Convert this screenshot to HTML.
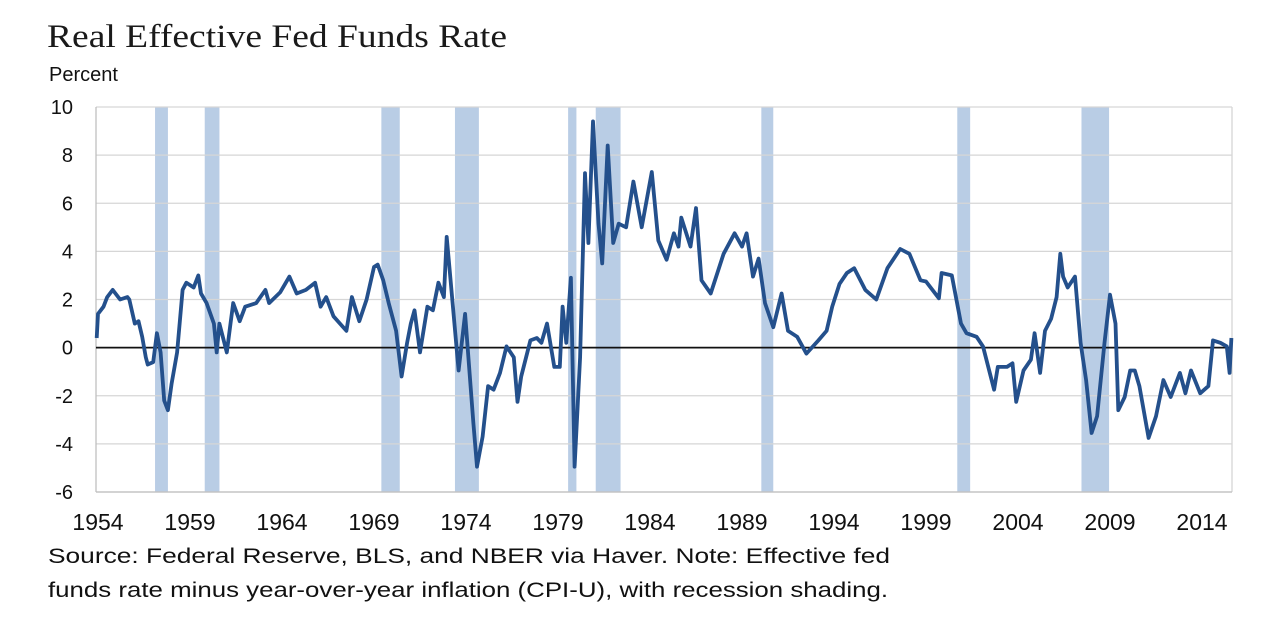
<!DOCTYPE html>
<html><head><meta charset="utf-8"><style>
html,body{margin:0;padding:0;background:#fff;}
svg{display:block;font-family:"Liberation Sans",Arial,sans-serif;}
</style></head><body>
<svg id="chart" width="1284" height="631" viewBox="0 0 1284 631">
<text x="47" y="47" font-family="Liberation Serif, serif" font-size="33" fill="#1a1a1a" textLength="460" lengthAdjust="spacingAndGlyphs">Real Effective Fed Funds Rate</text>
<text x="49" y="81" font-size="20" fill="#111">Percent</text>
<g id="rec"></g><g id="grid"></g><g id="axes"></g>
<path id="line" fill="none" stroke="#24508c" stroke-width="3.8" stroke-linejoin="round"/>
<g id="labels"></g>
<text x="48" y="563" font-size="21" fill="#111" textLength="842" lengthAdjust="spacingAndGlyphs">Source: Federal Reserve, BLS, and NBER via Haver.  Note: Effective fed</text>
<text x="48" y="597" font-size="21" fill="#111" textLength="840" lengthAdjust="spacingAndGlyphs">funds rate minus year-over-year inflation (CPI-U), with recession shading.</text>
</svg>
<script>
const yTicks=[10,8,6,4,2,0,-2,-4,-6];
const xTickYears=[1954,1959,1964,1969,1974,1979,1984,1989,1994,1999,2004,2009,2014];
const recessions=[[1957.6,1958.3],[1960.3,1961.1],[1969.9,1970.9],[1973.9,1975.2],[1980.05,1980.5],[1981.55,1982.9],[1990.55,1991.2],[2001.2,2001.9],[2007.95,2009.45]];
const years=[1954.43,1954.5,1954.8,1955.0,1955.3,1955.7,1956.1,1956.2,1956.5,1956.7,1956.9,1957.1,1957.2,1957.5,1957.7,1957.9,1958.1,1958.3,1958.5,1958.8,1959.1,1959.3,1959.7,1959.95,1960.1,1960.4,1960.8,1960.95,1961.1,1961.5,1961.7,1961.85,1962.2,1962.5,1963.1,1963.6,1963.8,1964.4,1964.9,1965.3,1965.8,1966.3,1966.6,1966.9,1967.3,1967.65,1968.0,1968.3,1968.7,1969.1,1969.5,1969.7,1970.0,1970.3,1970.7,1971.0,1971.3,1971.5,1971.7,1972.0,1972.4,1972.7,1973.0,1973.3,1973.45,1973.6,1974.1,1974.45,1974.9,1975.1,1975.4,1975.7,1976.0,1976.35,1976.7,1977.1,1977.3,1977.5,1978.0,1978.35,1978.6,1978.9,1979.3,1979.6,1979.75,1979.95,1980.2,1980.4,1980.7,1980.97,1981.15,1981.4,1981.7,1981.9,1982.2,1982.5,1982.8,1983.2,1983.6,1984.05,1984.6,1984.95,1985.4,1985.8,1986.05,1986.2,1986.7,1987.0,1987.3,1987.8,1988.5,1989.1,1989.5,1989.75,1990.1,1990.4,1990.75,1991.2,1991.65,1992.0,1992.5,1993.0,1993.65,1994.1,1994.4,1994.8,1995.2,1995.6,1996.2,1996.8,1997.4,1998.1,1998.6,1999.2,1999.5,2000.2,2000.35,2000.9,2001.4,2001.7,2002.25,2002.6,2003.2,2003.4,2003.9,2004.2,2004.4,2004.8,2005.2,2005.4,2005.7,2005.97,2006.3,2006.6,2006.8,2006.95,2007.2,2007.6,2007.9,2008.2,2008.5,2008.8,2009.2,2009.5,2009.8,2009.95,2010.3,2010.6,2010.85,2011.1,2011.6,2012.0,2012.4,2012.8,2013.3,2013.6,2013.9,2014.4,2014.85,2015.1,2015.5,2015.85,2016.0,2016.1];
const values=[0.4,1.4,1.7,2.1,2.4,2.0,2.1,2.0,1.0,1.1,0.45,-0.4,-0.7,-0.6,0.6,-0.2,-2.2,-2.6,-1.5,-0.2,2.4,2.7,2.5,3.0,2.25,1.85,1.0,-0.2,1.0,-0.2,1.0,1.85,1.1,1.7,1.85,2.4,1.85,2.3,2.95,2.25,2.4,2.7,1.7,2.1,1.3,1.0,0.7,2.1,1.1,2.0,3.35,3.45,2.8,1.85,0.7,-1.2,0.2,1.0,1.55,-0.2,1.7,1.55,2.7,2.1,4.6,3.35,-0.95,1.4,-3.15,-4.95,-3.7,-1.6,-1.75,-1.05,0.05,-0.4,-2.25,-1.2,0.3,0.4,0.2,1.0,-0.8,-0.8,1.7,0.2,2.9,-4.95,-0.4,7.25,4.35,9.4,5.15,3.5,8.4,4.35,5.15,5.0,6.9,5.0,7.3,4.45,3.65,4.75,4.2,5.4,4.2,5.8,2.8,2.25,3.9,4.75,4.2,4.75,2.95,3.7,1.85,0.85,2.25,0.7,0.45,-0.25,0.3,0.7,1.7,2.65,3.1,3.3,2.4,2.0,3.3,4.1,3.9,2.8,2.75,2.05,3.1,3.0,1.0,0.6,0.45,0.05,-1.75,-0.8,-0.8,-0.65,-2.25,-0.95,-0.5,0.6,-1.05,0.7,1.2,2.1,3.9,2.95,2.5,2.95,0.2,-1.35,-3.55,-2.85,0.2,2.2,1.0,-2.6,-2.05,-0.95,-0.95,-1.6,-3.75,-2.85,-1.35,-2.05,-1.05,-1.9,-0.95,-1.9,-1.6,0.3,0.2,0.05,-1.05,0.4];

const X0=96,X1=1232,Y0=107,Y1=492;
function xs(t){return 98+18.4*(t-1954.5);}
function ys(v){return Y1-(v+6)/16*(Y1-Y0);}
const NS='http://www.w3.org/2000/svg';
function mk(tag,parent,attrs){const e=document.createElementNS(NS,tag);for(const k in attrs)e.setAttribute(k,attrs[k]);parent.appendChild(e);return e;}
const rec=document.getElementById('rec'),grid=document.getElementById('grid'),axes=document.getElementById('axes'),labels=document.getElementById('labels');
recessions.forEach(r=>{
  const a=Math.max(X0,xs(r[0])),b=Math.min(X1,xs(r[1]));
  const e=mk('rect',rec,{x:a,y:Y0,width:b-a,height:Y1-Y0,fill:'#b9cde5'});
  
  
});
yTicks.forEach(v=>{
  const y=ys(v);
  if(v!==0){const g=mk('line',grid,{x1:X0,x2:X1,y1:y,y2:y,stroke:'#d6d6d6','stroke-width':1.3});
  
  }
  const t=mk('text',labels,{x:73,y:y+7,'text-anchor':'end','font-size':20,fill:'#111'});
  t.textContent=v;
  
  
});
const ax=mk('line',axes,{x1:X0,x2:X0,y1:Y0,y2:Y1,stroke:'#bfbfbf','stroke-width':1.3});


const axr=mk('line',axes,{x1:X1,x2:X1,y1:Y0,y2:Y1,stroke:'#d6d6d6','stroke-width':1.3});


const axb=mk('line',axes,{x1:X0,x2:X1,y1:Y1,y2:Y1,stroke:'#bfbfbf','stroke-width':1.3});


const z=mk('line',axes,{x1:X0,x2:X1,y1:ys(0),y2:ys(0),stroke:'#111','stroke-width':1.8});


xTickYears.forEach(yr=>{
  const t=mk('text',labels,{x:xs(yr+0.5),y:530,'text-anchor':'middle','font-size':23,fill:'#111'});
  t.textContent=yr;
  
  
});
let d='';
years.forEach((t,i)=>{d+=(i?'L':'M')+xs(t).toFixed(1)+' '+ys(values[i]).toFixed(1);});
document.getElementById('line').setAttribute('d',d);
</script>
</body></html>
